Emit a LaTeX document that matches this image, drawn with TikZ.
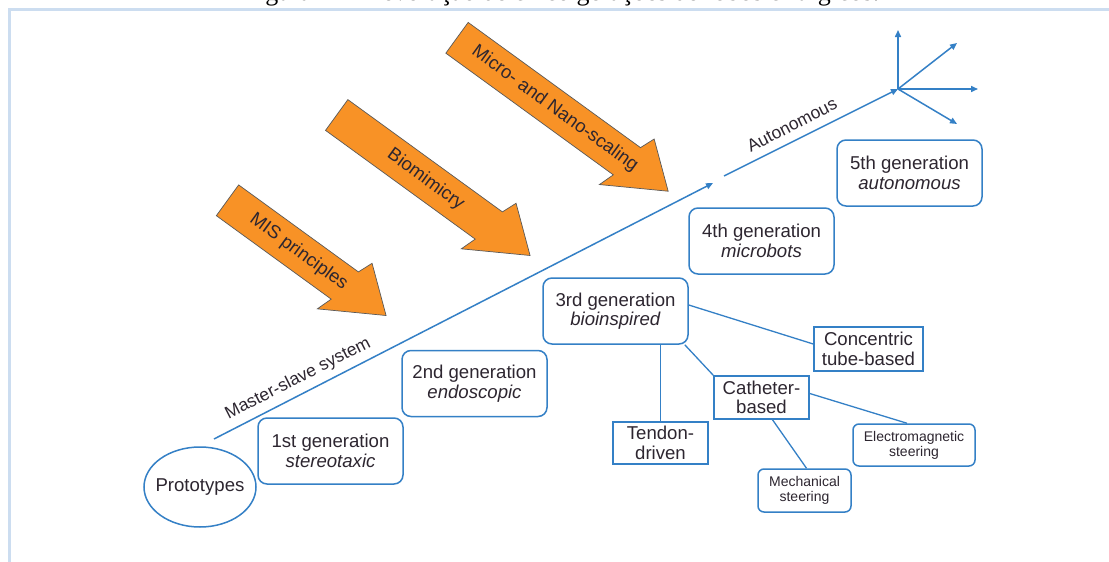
\documentclass[tikz,border=0pt]{standalone}
\usepackage{fontspec}
\setmainfont{Liberation Serif}
\newfontfamily\labelfont{Liberation Sans}
\usetikzlibrary{shapes.geometric, arrows.meta, positioning, calc}

\definecolor{edgeblue}{RGB}{52,128,198}
\definecolor{frameblue}{RGB}{204,221,240}
\definecolor{trendorange}{RGB}{248,146,38}
\definecolor{inkgray}{RGB}{45,38,48}

\tikzset{
  genbox/.style={draw=edgeblue, line width=1.5pt, rounded corners=9pt, minimum width=145pt, minimum height=66pt,
    inner sep=0pt, align=center, text=inkgray, font=\labelfont\fontsize{18.6}{19.5}\selectfont},
  techbox/.style={draw=edgeblue, line width=1.5pt, inner sep=0pt, align=center, text=inkgray,
    font=\labelfont\fontsize{18.6}{19.5}\selectfont},
  steerbox/.style={techbox, rounded corners=6pt, font=\labelfont\fontsize{14}{15}\selectfont},
  branch/.style={draw=edgeblue, line width=1.3pt},
  axisline/.style={draw=edgeblue, line width=1.5pt, -{Triangle[length=7pt,width=6pt]}},
  axislabel/.style={text=inkgray, font=\labelfont\fontsize{17.5}{18}\selectfont, inner sep=0pt, rotate=27},
  trend/.style={fill=trendorange, draw=black!65, line width=0.7pt, line join=miter},
}

\begin{document}
\begin{tikzpicture}[x=1pt, y=-1pt]
% Page and frame
\useasboundingbox (0,0) rectangle (1109,562);
\fill[white] (0,0) rectangle (1109,562);
\node[font=\fontsize{26}{30}\selectfont, anchor=base, inner sep=0pt] (caption) at (561.5,1)
  {Figura 1 – A evolução de cinco gerações de robôs cirúrgicos.};
\draw[frameblue, line width=3pt] (9.5,562) |- (1109,9);

% Trend arrows (orange)
\foreach \tx/\ty/\len/\lpos/\lab in {227.5/200.3/196/88/MIS principles,
    336.7/115/239/110/Biomimicry, 457/37.8/261/121/Micro- and Nano-scaling} {
  \begin{scope}[shift={(\tx,\ty)}, rotate=-36]
    \pgfmathsetmacro{\hb}{\len-51}
    \draw[trend] (0,-19) -- ({\hb+3},-19) -- ({\hb+9},-34) -- (\len,0)
      -- ({\hb-8.5},35) -- ({\hb-3},19) -- (0,19) -- cycle;
    \node[transform shape, text=inkgray, font=\labelfont\fontsize{18.5}{19}\selectfont] at (\lpos,0) {\lab};
  \end{scope}
}

% Start of the timeline
\node[draw=edgeblue, line width=1.5pt, ellipse, minimum width=112pt, minimum height=80pt,
  inner xsep=-5pt, inner ysep=0pt, text=inkgray, font=\labelfont\fontsize{18.6}{19.5}\selectfont]
  (proto) at (200,487) {Prototypes};

% Generation boxes
\node[genbox] (gen1) at (330.5,451) {1st generation\\\textit{stereotaxic}};
\node[genbox] (gen2) at (474.5,383.5) {2nd generation\\\textit{endoscopic}};
\node[genbox] (gen3) at (615.5,311) {3rd generation\\\textit{bioinspired}};
\node[genbox] (gen4) at (761.5,241) {4th generation\\\textit{microbots}};
\node[genbox] (gen5) at (909.5,173) {5th generation\\\textit{autonomous}};

% Timeline
\coordinate (tstart) at (214,439);
\coordinate (tbreak) at (713,183);
\coordinate (tresume) at (724,176);
\coordinate (origin) at (898,89);
\draw[axisline] (tstart) -- (tbreak);
\draw[axisline] (tresume) -- (origin);
\node[axislabel] (mslabel) at (298,379) {Master-slave system};
\node[axislabel] (autolabel) at (792,125) {Autonomous};

% Degrees of freedom
\foreach \tip/\px/\py in {up/898/30, upright/957/43, right/978/89, downright/957/124} {
  \coordinate (dof-\tip) at (\px,\py);
  \draw[axisline, -{Triangle[length=7pt,width=6pt]}] (origin) -- (dof-\tip);
}

% Bioinspired branches
\node[techbox, minimum width=109pt, minimum height=44pt] (concentric) at (868.5,349) {Concentric\\tube-based};
\node[techbox, minimum width=95pt, minimum height=43pt] (catheter) at (761.5,397.5) {Catheter-\\based};
\node[techbox, minimum width=95pt, minimum height=42pt] (tendon) at (660.5,443) {Tendon-\\driven};
\node[steerbox, minimum width=122pt, minimum height=42pt] (electro) at (914,445) {Electromagnetic\\steering};
\node[steerbox, minimum width=93pt, minimum height=43pt] (mech) at (804.5,490.5) {Mechanical\\steering};

\draw[branch] ([yshift=6pt]gen3.east) -- ([yshift=5pt]concentric.west);
\draw[branch] (gen3.south -| tendon.north) -- (tendon.north);
\draw[branch] ([xshift=-4pt]gen3.south east) -- (catheter.north west);
\draw[branch] ([yshift=4pt]catheter.east) -- ([xshift=-7pt]electro.north);
\draw[branch] ([xshift=11pt]catheter.south) -- ([xshift=2pt]mech.north);
\end{tikzpicture}
\end{document}
